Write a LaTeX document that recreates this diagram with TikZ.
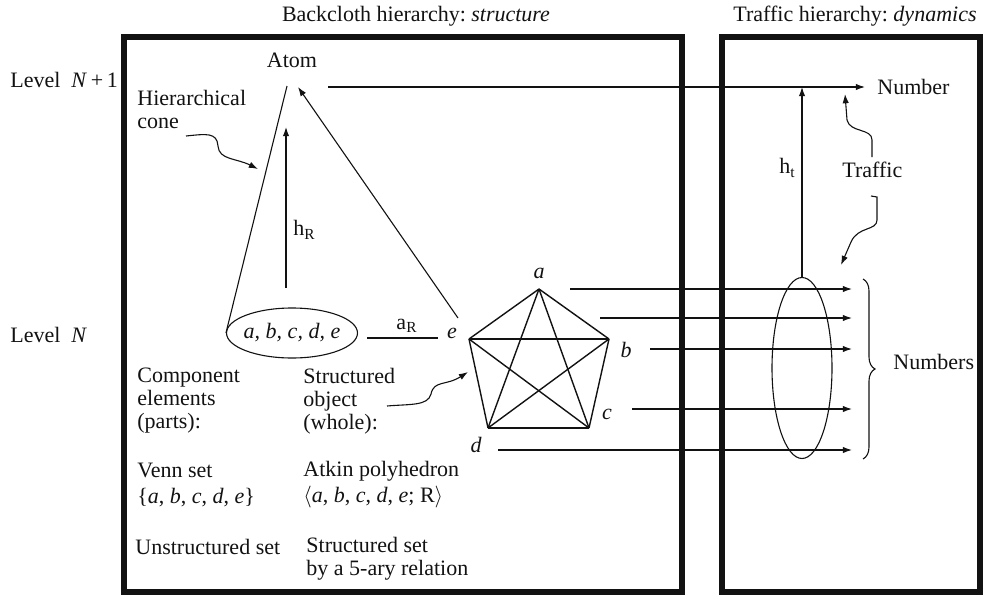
\documentclass[tikz,border=0pt]{standalone}
\usepackage{fontspec}
\setmainfont{Liberation Serif}
\usetikzlibrary{arrows.meta,decorations.pathreplacing,shapes.geometric}
\definecolor{inkBlack}{RGB}{18,18,18}

\tikzset{
  lbl/.style={font=\fontsize{11}{11.5}\selectfont,text=inkBlack,inner sep=0pt},
  txtblock/.style={lbl,align=left,anchor=west},
  vtx/.style={lbl,font=\fontsize{11}{11.5}\selectfont\itshape},
  fine/.style={draw=inkBlack,line width=0.55pt},
  arr/.style={fine,-{Latex[length=4.6pt,width=3.2pt]}},
  edge/.style={draw=inkBlack,line width=0.7pt},
  frame/.style={draw=inkBlack,line width=2.6pt},
}

\begin{document}
\begin{tikzpicture}[x=0.5pt,y=-0.5pt]
\useasboundingbox (0,0) rectangle (984,594);
\draw[frame] (124,37) rectangle (682,592);
\draw[frame] (722,37) rectangle (980,592);
\node[lbl] (titleback) at (416,16) {Backcloth hierarchy:\ \textit{structure}};
\node[lbl] (titletraf) at (855,16) {Traffic hierarchy:\ \textit{dynamics}};
\node[lbl,anchor=west] (levtop) at (10,80) {Level\ \ \textit{N}\,+\,1};
\node[lbl,anchor=west] (levbot) at (10,335) {Level\ \ \textit{N}};

\node[lbl] (atom) at (292,60) {Atom};
\coordinate (apex) at (287,86);
\coordinate (apexR) at (298,87);
\node[txtblock] (cone) at (137,109) {Hierarchical\\cone};
\node[draw=inkBlack,line width=0.55pt,ellipse,minimum width=65.5pt,minimum height=25pt,inner sep=0pt] (venn) at (292,333) {};
\node[lbl,font=\fontsize{11}{11.5}\selectfont\itshape] (vennlbl) at (292,333) {a,\ b,\ c,\ d,\ e};
\draw[fine] (venn.west) -- (apex);
\coordinate (hRfoot) at (286,288);
\coordinate (hRtip) at (286,127);
\draw[arr] (hRfoot) -- (hRtip);
\node[lbl,anchor=west] (hR) at (293,230) {h\textsubscript{R}};
\draw[arr] (186,136) .. controls (206,134) and (217,132) .. (218,146)
  .. controls (219,160) and (236,158) .. (258,169);

\node[lbl] (aR) at (407,326) {a\textsubscript{R}};
\coordinate (aRl) at (367,338);
\coordinate (aRr) at (438,338);
\draw[fine] (aRl) -- (aRr);

\coordinate (pa) at (539,289);
\coordinate (pb) at (609,339);
\coordinate (pc) at (589,428);
\coordinate (pd) at (488,428);
\coordinate (pe) at (469,339);
\foreach \u/\v in {pa/pb,pa/pc,pa/pd,pa/pe,pb/pc,pb/pd,pb/pe,pc/pd,pc/pe,pd/pe}
  \draw[edge] (\u) -- (\v);
\node[vtx] (la) at (539,273) {a};
\node[vtx] (lb) at (626,350) {b};
\node[vtx] (lc) at (607,414) {c};
\node[vtx] (ld) at (476,445) {d};
\node[vtx] (le) at (452,333) {e};
\coordinate (eFoot) at (458,318);
\draw[arr] (eFoot) -- (apexR);

\node[txtblock] (parts) at (137,401) {Component\\elements\\(parts):};
\node[txtblock] (whole) at (303,401) {Structured\\object\\(whole):};
\draw[arr] (387,406) .. controls (410,404) and (428,406) .. (431,394)
  .. controls (434,380) and (446,386) .. (468,372);
\node[txtblock] (venntxt) at (137,485) {Venn set\\[1.5pt]\{\textit{a},\ \textit{b},\ \textit{c},\ \textit{d},\ \textit{e}\}};
\node[txtblock] (atkin) at (303,485) {Atkin polyhedron\\[1.5pt]$\langle$\textit{a},\ \textit{b},\ \textit{c},\ \textit{d},\ \textit{e};\ R$\rangle$};
\node[txtblock] (unstr) at (135,547) {Unstructured set};
\node[txtblock] (str) at (306,559) {Structured set\\by a 5-ary relation};

\node[lbl,anchor=west] (num) at (877,87) {Number};
\coordinate (atomR) at (328,87);
\draw[arr] (atomR) -- ([xshift=-6pt]num.west);
\node[draw=inkBlack,line width=0.55pt,ellipse,minimum width=30pt,minimum height=90.5pt,inner sep=0pt] (trafset) at (802,368) {};
\draw[arr] (trafset.north) -- (trafset.north |- atomR);
\node[lbl,anchor=west] (ht) at (779,168) {h\textsubscript{t}};
\node[lbl,anchor=west] (traffic) at (842,170) {Traffic};
\draw[arr] (872,157) -- (872,140) .. controls (872,128) and (850,133) .. (847,120) -- (845,94);
\draw[arr] (871,196) -- (877,197) -- (877,220) .. controls (877,231) and (858,226) .. (851,242) -- (841,265);

\foreach \i/\xs/\ys in {1/570/289,2/600/318,3/650/349,4/632/409,5/498/450}{
  \coordinate (s\i) at (\xs,\ys);
  \coordinate (t\i) at (852,\ys);
  \draw[arr] (s\i) -- (t\i);
}
\draw[fine,decorate,decoration={brace,amplitude=6pt}] (863,279) -- (863,459);
\node[lbl,anchor=west] (nums) at (893,362) {Numbers};
\end{tikzpicture}
\end{document}
